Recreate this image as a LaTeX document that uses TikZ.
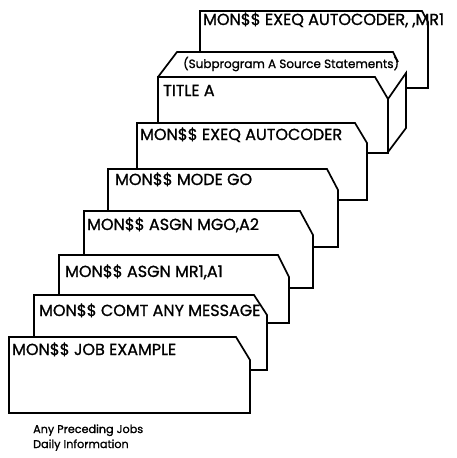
\documentclass[tikz,border=0pt]{standalone}
\usepackage{fontspec}
\setmainfont{Poppins}
\newfontfamily\cardfont{Poppins}[FakeBold=1.1]
\begin{document}
\begin{tikzpicture}[x=1pt, y=-1pt,
  card/.style={line width=1.7pt, line join=miter, line cap=butt},
  cardtext/.style={anchor=base west, inner sep=0pt, font=\cardfont\fontsize{16}{16}\selectfont},
  subtext/.style={anchor=base west, inner sep=0pt, font=\cardfont\fontsize{12}{12}\selectfont},
  notetext/.style={anchor=base west, inner sep=0pt, font=\cardfont\fontsize{11.2}{11.2}\selectfont}]
\useasboundingbox (0,0) rectangle (457,458);

% front card
\draw[card] (9,337) -- (236,337) -- (250,360) -- (250,413) -- (9,413) -- cycle;
% cards behind: left edge, top edge, clipped corner, right edge, bottom stub
\draw[card] (34,337) -- (34,295) -- (254,295) -- (267,315) -- (267,370) -- (250,370);
\draw[card] (59,295) -- (59,255) -- (278,255) -- (289,277) -- (289,323) -- (267,323);
\draw[card] (84,255) -- (84,211) -- (300,211) -- (313,235) -- (313,288) -- (289,288);
\draw[card] (108,211) -- (108,169) -- (327,169) -- (338,190) -- (338,247) -- (313,247);
\draw[card] (137,169) -- (137,123) -- (355,123) -- (367,143) -- (367,200) -- (338,200);
% source deck: front face, side and top
\draw[card] (158,123) -- (158,77) -- (375,77) -- (388,99) -- (388,153) -- (367,153);
\draw[card] (388,99) -- (406,73) -- (406,128) -- (388,152);
\draw[card] (158,77) -- (177,52) -- (393,52) -- (398,62);
% last card behind the deck
\draw[card] (200,52) -- (200,11) -- (422,11) -- (428,22) -- (428,88) -- (406,88);

% card texts
\node[cardtext] (t1) at (12,355) {MON\$\$ JOB EXAMPLE};
\node[cardtext] (t2) at (39,316) {MON\$\$ COMT ANY MESSAGE};
\node[cardtext] (t3) at (65,277) {MON\$\$ ASGN MR1,A1};
\node[cardtext] (t4) at (87,230) {MON\$\$ ASGN MGO,A2};
\node[cardtext] (t5) at (115,185) {MON\$\$ MODE GO};
\node[cardtext] (t6) at (140,140) {MON\$\$ EXEQ AUTOCODER};
\node[cardtext] (t7) at (163,96) {TITLE A};
\node[subtext]  (t8) at (183,68) {(Subprogram A Source Statements)};
\node[cardtext] (t9) at (203,25) {MON\$\$ EXEQ AUTOCODER,\kern4pt,MR1};

\node[notetext] (n1) at (33,433) {Any Preceding Jobs};
\node[notetext] (n2) at (33,448) {Daily Information};
\end{tikzpicture}
\end{document}
